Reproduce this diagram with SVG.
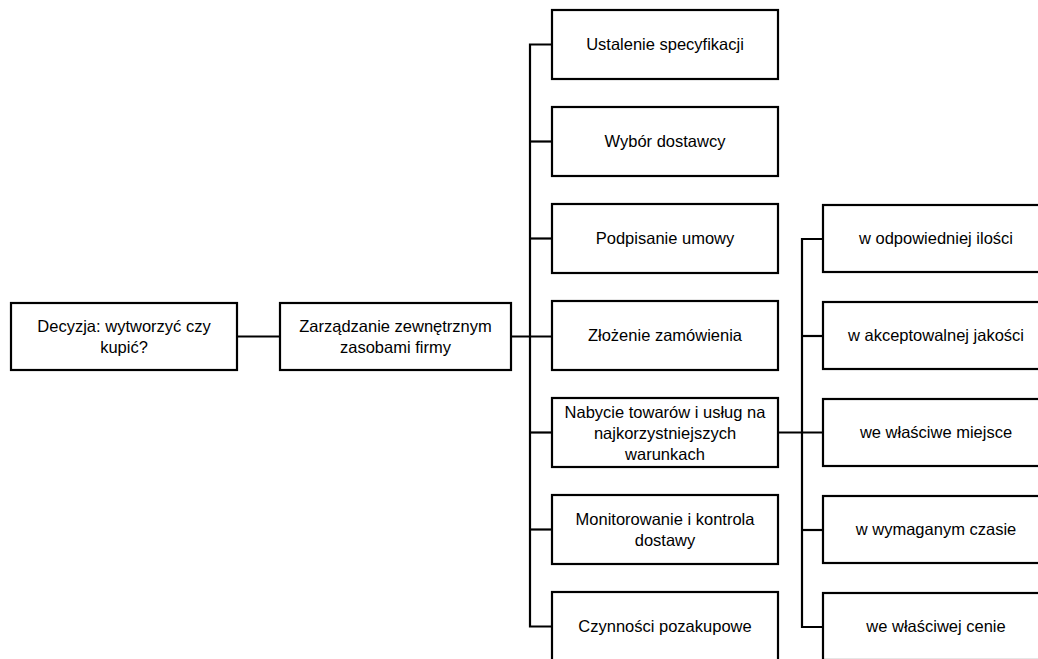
<svg xmlns="http://www.w3.org/2000/svg" width="1038" height="659" viewBox="0 0 1038 659">
  <style>
    .box { fill: #ffffff; stroke: #000000; stroke-width: 2.2; }
    .link { fill: none; stroke: #000000; stroke-width: 2.2; }
    .lbl { font-family: "Liberation Sans", Arial, sans-serif; font-size: 16.5px; fill: #000000; text-anchor: middle; }
  </style>
  <rect width="1038" height="659" fill="#ffffff"/>

  <!-- connectors -->
  <g id="connectors">
    <line class="link" x1="237" y1="336.5" x2="280" y2="336.5"/>
    <line class="link" x1="511" y1="336.5" x2="552" y2="336.5"/>
    <!-- trunk for the process steps -->
    <path class="link" d="M552 44.5 H530 V626.5 H552"/>
    <line class="link" x1="530" y1="141.5" x2="552" y2="141.5"/>
    <line class="link" x1="530" y1="238.5" x2="552" y2="238.5"/>
    <line class="link" x1="530" y1="432.5" x2="552" y2="432.5"/>
    <line class="link" x1="530" y1="529.5" x2="552" y2="529.5"/>
    <!-- trunk for the purchase conditions -->
    <line class="link" x1="778" y1="432.5" x2="823" y2="432.5"/>
    <path class="link" d="M823 239 H802 V627 H823"/>
    <line class="link" x1="802" y1="336" x2="823" y2="336"/>
    <line class="link" x1="802" y1="530" x2="823" y2="530"/>
  </g>

  <g id="decyzja">
    <rect class="box" x="11" y="303" width="226" height="67"/>
    <text class="lbl" x="124" y="332">Decyzja: wytworzyć czy</text>
    <text class="lbl" x="124" y="353">kupić?</text>
  </g>
  <g id="zarzadzanie">
    <rect class="box" x="280" y="303" width="231" height="67"/>
    <text class="lbl" x="395.5" y="332">Zarządzanie zewnętrznym</text>
    <text class="lbl" x="395.5" y="353">zasobami firmy</text>
  </g>

  <g id="ustalenie">
    <rect class="box" x="552" y="10" width="226" height="69"/>
    <text class="lbl" x="665" y="50">Ustalenie specyfikacji</text>
  </g>
  <g id="wybor">
    <rect class="box" x="552" y="107" width="226" height="69"/>
    <text class="lbl" x="665" y="147">Wybór dostawcy</text>
  </g>
  <g id="podpisanie">
    <rect class="box" x="552" y="204" width="226" height="69"/>
    <text class="lbl" x="665" y="244">Podpisanie umowy</text>
  </g>
  <g id="zlozenie">
    <rect class="box" x="552" y="301" width="226" height="69"/>
    <text class="lbl" x="665" y="341">Złożenie zamówienia</text>
  </g>
  <g id="nabycie">
    <rect class="box" x="552" y="398" width="226" height="69"/>
    <text class="lbl" x="665" y="418">Nabycie towarów i usług na</text>
    <text class="lbl" x="665" y="439">najkorzystniejszych</text>
    <text class="lbl" x="665" y="460">warunkach</text>
  </g>
  <g id="monitorowanie">
    <rect class="box" x="552" y="495" width="226" height="69"/>
    <text class="lbl" x="665" y="525">Monitorowanie i kontrola</text>
    <text class="lbl" x="665" y="546">dostawy</text>
  </g>
  <g id="czynnosci">
    <rect class="box" x="552" y="592" width="226" height="69"/>
    <text class="lbl" x="665" y="632">Czynności pozakupowe</text>
  </g>

  <g id="ilosc">
    <rect class="box" x="823" y="205" width="226" height="67"/>
    <text class="lbl" x="936" y="244">w odpowiedniej ilości</text>
  </g>
  <g id="jakosc">
    <rect class="box" x="823" y="302" width="226" height="67"/>
    <text class="lbl" x="936" y="341">w akceptowalnej jakości</text>
  </g>
  <g id="miejsce">
    <rect class="box" x="823" y="399" width="226" height="67"/>
    <text class="lbl" x="936" y="438">we właściwe miejsce</text>
  </g>
  <g id="czas">
    <rect class="box" x="823" y="496" width="226" height="67"/>
    <text class="lbl" x="936" y="535">w wymaganym czasie</text>
  </g>
  <g id="cena">
    <rect class="box" x="823" y="593" width="226" height="67"/>
    <text class="lbl" x="936" y="632">we właściwej cenie</text>
  </g>
</svg>
